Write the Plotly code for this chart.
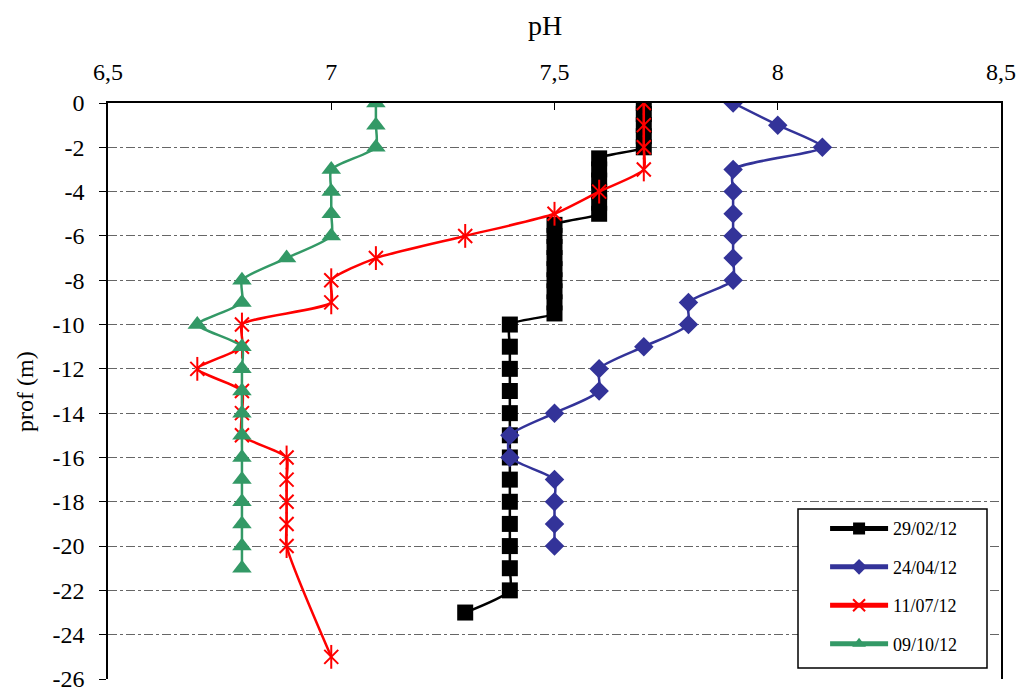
import plotly.graph_objects as go

# pH profiles by depth for four sampling dates
depth_290212 = [0, -0.5, -1, -1.5, -2, -2.5, -3, -3.5, -4, -4.5, -5,
                -5.5, -6, -6.5, -7, -7.5, -8, -8.5, -9, -9.5, -10,
                -11, -12, -13, -14, -15, -16, -17, -18, -19, -20, -21, -22, -23]
ph_290212 = [7.7, 7.7, 7.7, 7.7, 7.7, 7.6, 7.6, 7.6, 7.6, 7.6, 7.6,
             7.5, 7.5, 7.5, 7.5, 7.5, 7.5, 7.5, 7.5, 7.5, 7.4,
             7.4, 7.4, 7.4, 7.4, 7.4, 7.4, 7.4, 7.4, 7.4, 7.4, 7.4, 7.4, 7.3]

depth_240412 = [0, -1, -2, -3, -4, -5, -6, -7, -8, -9, -10,
                -11, -12, -13, -14, -15, -16, -17, -18, -19, -20]
ph_240412 = [7.9, 8.0, 8.1, 7.9, 7.9, 7.9, 7.9, 7.9, 7.9, 7.8, 7.8,
             7.7, 7.6, 7.6, 7.5, 7.4, 7.4, 7.5, 7.5, 7.5, 7.5]

depth_110712 = [0, -1, -2, -3, -4, -5, -6, -7, -8, -9, -10,
                -11, -12, -13, -14, -15, -16, -17, -18, -19, -20, -25]
ph_110712 = [7.7, 7.7, 7.7, 7.7, 7.6, 7.5, 7.3, 7.1, 7.0, 7.0, 6.8,
             6.8, 6.7, 6.8, 6.8, 6.8, 6.9, 6.9, 6.9, 6.9, 6.9, 7.0]

depth_091012 = [0, -1, -2, -3, -4, -5, -6, -7, -8, -9, -10,
                -11, -12, -13, -14, -15, -16, -17, -18, -19, -20, -21]
ph_091012 = [7.1, 7.1, 7.1, 7.0, 7.0, 7.0, 7.0, 6.9, 6.8, 6.8, 6.7,
             6.8, 6.8, 6.8, 6.8, 6.8, 6.8, 6.8, 6.8, 6.8, 6.8, 6.8]

x_ticks = [6.5, 7, 7.5, 8, 8.5]
x_tick_text = ["6,5", "7", "7,5", "8", "8,5"]
y_ticks = [0, -2, -4, -6, -8, -10, -12, -14, -16, -18, -20, -22, -24, -26]
y_tick_text = ["0", "-2", "-4", "-6", "-8", "-10", "-12", "-14", "-16",
               "-18", "-20", "-22", "-24", "-26"]

SERIF = "Liberation Serif"
RED = "#FF0000"
line_shape = dict(shape="spline", smoothing=0.6, width=2.5)

fig = go.Figure()

fig.add_trace(go.Scatter(
    x=ph_290212, y=depth_290212, name="29/02/12", mode="lines+markers",
    line=dict(color="#000000", **line_shape),
    marker=dict(symbol="square", size=16, color="#000000"),
    legendgroup="a"))

fig.add_trace(go.Scatter(
    x=ph_240412, y=depth_240412, name="24/04/12", mode="lines+markers",
    line=dict(color="#333399", **line_shape),
    marker=dict(symbol="diamond", size=15, color="#333399"),
    legendgroup="b"))

fig.add_trace(go.Scatter(
    x=ph_110712, y=depth_110712, name="11/07/12", mode="lines+markers",
    line=dict(color=RED, **line_shape),
    marker=dict(symbol="x-thin-open", size=14, color=RED,
                line=dict(color=RED, width=2)),
    legendgroup="c"))
# vertical stroke completing the star markers
fig.add_trace(go.Scatter(
    x=ph_110712, y=depth_110712, mode="markers", showlegend=False,
    marker=dict(symbol="line-ns-open", size=17, color=RED,
                line=dict(color=RED, width=2)),
    legendgroup="c", hoverinfo="skip"))

fig.add_trace(go.Scatter(
    x=ph_091012, y=depth_091012, name="09/10/12", mode="lines+markers",
    line=dict(color="#339966", **line_shape),
    marker=dict(symbol="triangle-up", size=17, color="#339966"),
    legendgroup="d"))

fig.update_layout(
    width=1021, height=691,
    margin=dict(l=108, r=20, t=103, b=12, autoexpand=False),
    paper_bgcolor="white", plot_bgcolor="white",
    font=dict(family=SERIF, color="black", size=24),
    showlegend=True,
    legend=dict(
        x=0.803, y=0.293, xanchor="left", yanchor="top",
        bgcolor="rgba(0,0,0,0)", borderwidth=0,
        font=dict(family=SERIF, size=18, color="black"),
        tracegroupgap=12, itemwidth=58, itemsizing="constant",
    ),
    xaxis=dict(
        side="top", range=[6.5, 8.5], tickvals=x_ticks, ticktext=x_tick_text,
        ticks="inside", ticklen=7, tickcolor="black", ticklabelstandoff=12,
        showline=True, linecolor="black", linewidth=1.5, automargin=False,
        showgrid=False, zeroline=False,
        tickfont=dict(family=SERIF, size=24, color="black"),
    ),
    yaxis=dict(
        range=[-26, 0], tickvals=y_ticks, ticktext=y_tick_text,
        ticks="outside", ticklen=7, tickcolor="black", ticklabelstandoff=10,
        ticklabeloverflow="allow", automargin=False,
        showline=True, linecolor="black", linewidth=1.5, mirror=True,
        showgrid=True, gridcolor="#666666", gridwidth=1, griddash="dashdot",
        zeroline=False,
        tickfont=dict(family=SERIF, size=24, color="black"),
    ),
    shapes=[
        # legend frame
        dict(type="rect", xref="paper", yref="paper",
             x0=(798 - 108) / 893, x1=(987 - 108) / 893,
             y0=(679 - 668) / 576, y1=(679 - 509) / 576,
             line=dict(color="black", width=1.5), fillcolor="white",
             layer="above"),
    ],
    annotations=[
        dict(text="pH", xref="paper", yref="paper", x=0.489, y=1.135,
             xanchor="center", yanchor="middle", showarrow=False,
             font=dict(family=SERIF, size=28, color="black")),
        dict(text="prof (m)", xref="paper", yref="paper", x=-0.093, y=0.5,
             xanchor="center", yanchor="middle", textangle=-90, showarrow=False,
             font=dict(family=SERIF, size=24, color="black")),
    ],
)

fig.write_html("out.html")
